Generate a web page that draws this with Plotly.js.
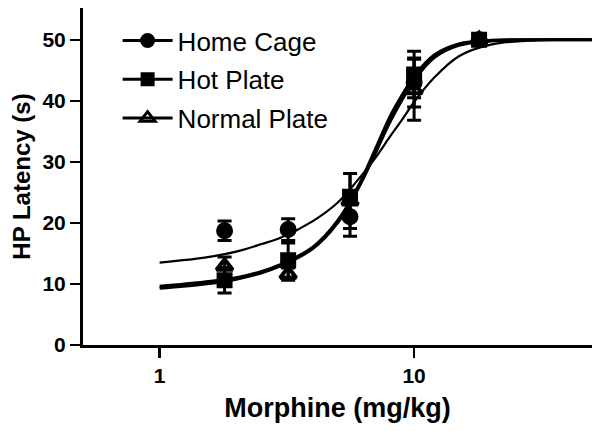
<!DOCTYPE html>
<html>
<head>
<meta charset="utf-8">
<script src="https://cdn.plot.ly/plotly-3.0.1.min.js"></script>
<style>
  html, body { margin: 0; padding: 0; background: #fff; }
  #chart { width: 600px; height: 431px; }
</style>
</head>
<body>
<div id="chart"></div>
<script>
// doses (mg/kg) and group means / SEM
var doses = [1.8, 3.2, 5.6, 10, 18];

var homeCage = [18.7, 18.9, 21.0, 43.0, 50.0];
var homeCageErr = [1.6, 1.8, 3.2, 4.0, 0.4];

var hotPlate = [10.6, 13.9, 24.3, 44.3, 50.0];
var hotPlateErr = [2.1, 2.8, 3.8, 3.8, 0.4];

var normalPlate = [12.9, 11.6, 23.6, 41.8, 50.0];
var normalPlateErr = [1.5, 1.0, 4.5, 5.0, 0.4];

// fitted dose-response curves
var curveDose = [1, 1.5, 2, 2.5, 3, 4, 5, 6, 7, 8, 9, 10, 12, 15, 20, 30, 50];
var homeCageFit = [13.5, 14.3, 15.3, 16.5, 17.6, 20.3, 23.3, 27.0, 30.5, 34.0, 37.0, 39.8, 43.8, 47.3, 49.2, 49.9, 50];
var hotPlateFit = [9.6, 10.3, 11.0, 12.0, 13.2, 16.0, 20.3, 25.8, 31.8, 37.2, 41.0, 44.0, 47.5, 49.3, 49.9, 50, 50];
var normalPlateFit = [9.3, 10.0, 10.8, 11.8, 13.0, 15.8, 20.0, 25.5, 31.2, 36.4, 40.3, 43.4, 47.1, 49.1, 49.8, 50, 50];

var yTicks = [0, 10, 20, 30, 40, 50];
var xTicks = [1, 10];
var xTickText = ['1', '10'];

var groups = [
    { name: 'Home Cage', y: homeCage, err: homeCageErr, fit: homeCageFit, symbol: 'circle', size: 13, fitWidth: 2.2 },
    { name: 'Hot Plate', y: hotPlate, err: hotPlateErr, fit: hotPlateFit, symbol: 'square', size: 12, fitWidth: 3.2 },
    { name: 'Normal Plate', y: normalPlate, err: normalPlateErr, fit: normalPlateFit, symbol: 'triangle-up-open', size: 14, fitWidth: 3.2 }
];

var data = [];

groups.forEach(function (g) {
    data.push({
        x: curveDose,
        y: g.fit,
        type: 'scatter',
        mode: 'lines',
        line: { color: '#000', width: g.fitWidth, shape: 'spline' },
        showlegend: false,
        hoverinfo: 'skip'
    });
});

groups.forEach(function (g) {
    data.push({
        x: doses,
        y: g.y,
        type: 'scatter',
        mode: 'markers',
        marker: { symbol: g.symbol, size: g.size, color: '#000', line: { color: '#000', width: 4 } },
        error_y: { type: 'data', array: g.err, visible: true, color: '#000', thickness: 3, width: 7 },
        showlegend: false
    });
});

// legend entries with line + marker
groups.forEach(function (g) {
    data.push({
        x: [null],
        y: [null],
        type: 'scatter',
        mode: 'lines+markers',
        name: g.name,
        legendgroup: g.name,
        line: { color: '#000', width: 3 },
        marker: { symbol: g.symbol, size: g.size - 1, color: '#000', line: { color: '#000', width: 3 } }
    });
});

var tickFont = { family: 'Liberation Sans, Arial, sans-serif', size: 21, color: '#000', weight: 'bold' };

var layout = {
    width: 600,
    height: 431,
    margin: { l: 83, r: 8, t: 8, b: 86 },
    paper_bgcolor: '#fff',
    plot_bgcolor: '#fff',
    showlegend: true,
    legend: {
        x: 0.068,
        y: 0.973,
        xanchor: 'left',
        yanchor: 'top',
        bgcolor: 'rgba(0,0,0,0)',
        itemwidth: 50,
        tracegroupgap: 2,
        font: { family: 'Liberation Sans, Arial, sans-serif', size: 26, color: '#000' }
    },
    xaxis: {
        type: 'log',
        range: [Math.log10(0.5), Math.log10(50)],
        tickvals: xTicks,
        ticktext: xTickText,
        ticks: 'outside',
        ticklen: 10,
        tickwidth: 2.5,
        tickcolor: '#000',
        tickfont: tickFont,
        showline: true,
        linewidth: 3,
        linecolor: '#000',
        showgrid: false,
        zeroline: false,
        title: {
            text: 'Morphine (mg/kg)',
            font: { family: 'Liberation Sans, Arial, sans-serif', size: 27, color: '#000', weight: 'bold' },
            standoff: 12
        }
    },
    yaxis: {
        range: [0, 55.2],
        tickvals: yTicks,
        ticks: 'outside',
        ticklen: 10,
        tickwidth: 2.5,
        tickcolor: '#000',
        tickfont: tickFont,
        showline: true,
        linewidth: 3,
        linecolor: '#000',
        showgrid: false,
        zeroline: false,
        title: {
            text: 'HP Latency (s)',
            font: { family: 'Liberation Sans, Arial, sans-serif', size: 24, color: '#000', weight: 'bold' },
            standoff: 6
        }
    }
};

var config = { responsive: false, displayModeBar: false, staticPlot: true };

Plotly.newPlot('chart', data, layout, config);
</script>
</body>
</html>
